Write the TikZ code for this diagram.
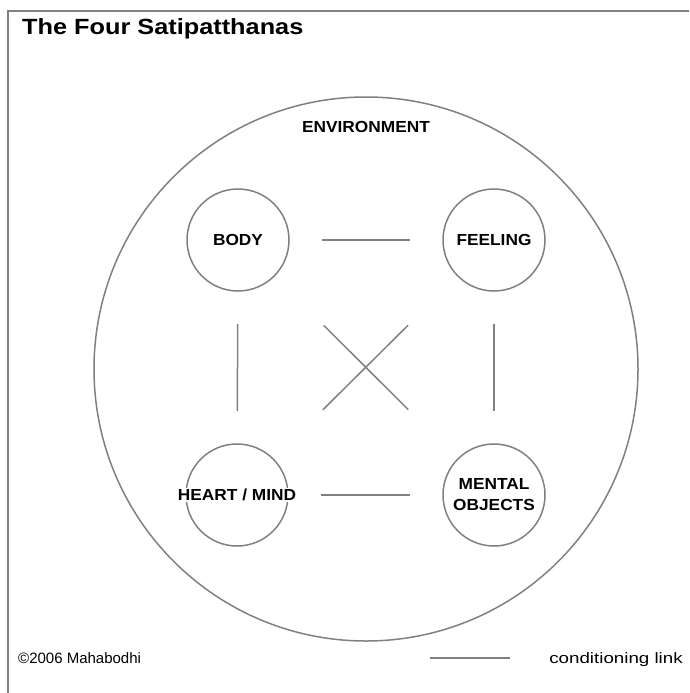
\documentclass[tikz,border=0pt]{standalone}
\usepackage{fontspec}
\setmainfont{Liberation Sans}
\definecolor{linegray}{RGB}{128,128,128}
\begin{document}
\begin{tikzpicture}[x=1pt,y=-1pt,
  ring/.style={draw=linegray, line width=1.5pt, circle, minimum size=102pt, inner sep=0pt, outer sep=0pt},
  envring/.style={draw=linegray, line width=1.5pt, circle, minimum size=544pt, inner sep=0pt, outer sep=0pt},
  lab/.style={font=\fontsize{16}{21}\selectfont\bfseries, xscale=1.08, fill=white, inner sep=1pt, align=center},
  link/.style={draw=linegray, line width=1.5pt},
  straightlink/.style={link, shorten >=33pt, shorten <=33pt},
  crosslink/.style={link, shorten >=70pt, shorten <=70pt},
  frame/.style={draw=linegray, line width=2pt},
  titletext/.style={font=\fontsize{22}{26}\selectfont\bfseries, xscale=1.15, inner sep=0pt},
  foot/.style={font=\fontsize{15}{18}\selectfont, inner sep=0pt}]
\useasboundingbox (0,0) rectangle (689,693);
% frame (top and left edges)
\coordinate (fbl) at (8,693);
\coordinate (ftl) at (8,11);
\coordinate (ftr) at (689,11);
\draw[frame] (fbl) -- (ftl) -- (ftr);
% title
\node[titletext, anchor=base west] (title) at (22,35) {The Four Satipatthanas};
% environment
\node[envring] (env) at (366,369) {};
\node[lab] (envlab) at (366,127) {ENVIRONMENT};
% four satipatthanas
\node[ring] (body) at (238,240) {};
\node[ring] (feeling) at (494,240) {};
\node[ring] (mind) at (237,495) {};
\node[ring] (objects) at (494,495) {};
\node[lab] (bodylab) at (body) {BODY};
\node[lab] (feelinglab) at (feeling) {FEELING};
\node[lab] (mindlab) at (mind) {HEART / MIND};
\node[lab] (objectslab) at (objects) {MENTAL\\OBJECTS};
% conditioning links
\draw[straightlink] (body) -- (feeling);
\draw[straightlink] (mind) -- (objects);
\draw[straightlink] (body) -- (mind);
\draw[straightlink] (feeling) -- (objects);
\draw[crosslink] (body) -- (objects);
\draw[crosslink] (feeling) -- (mind);
% footer
\node[foot, anchor=base west] (copy) at (18,663) {©2006 Mahabodhi};
\node[foot, xscale=1.25, anchor=base east] (legtext) at (683,663) {conditioning link};
\coordinate (lega) at (430,658);
\coordinate (legb) at (510,658);
\draw[link] (lega) -- (legb);
\end{tikzpicture}
\end{document}
